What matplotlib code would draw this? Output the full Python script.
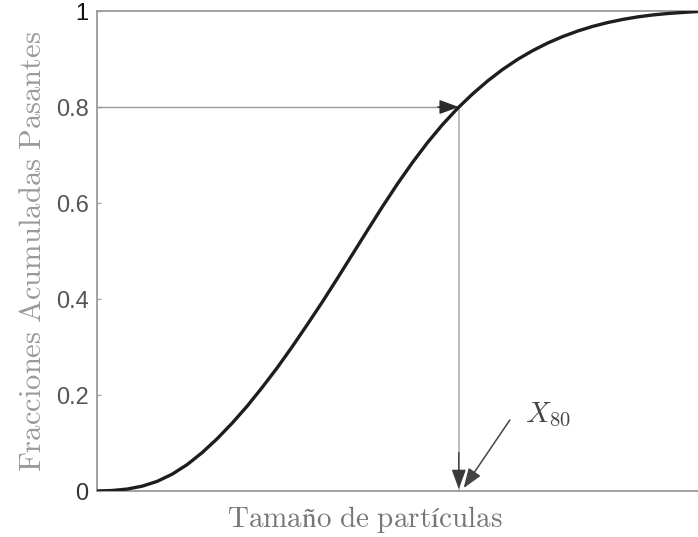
import matplotlib
matplotlib.use("Agg")
import matplotlib.pyplot as plt

plt.rcParams['mathtext.fontset'] = 'cm'

# Data (x in arbitrary size units 0-100)
size = [0.0, 2.5, 5.0, 7.5, 10.0, 12.5, 15.0, 17.5, 20.0, 22.5, 25.0, 27.5, 30.0,
        32.5, 35.0, 37.5, 40.0, 42.5, 45.0, 47.5, 50.0, 52.5, 55.0, 57.5, 60.0,
        62.5, 65.0, 67.5, 70.0, 72.5, 75.0, 77.5, 80.0, 82.5, 85.0, 87.5, 90.0,
        92.5, 95.0, 97.5, 100.0]
passing = [0.0, 0.001, 0.004, 0.010, 0.020, 0.035, 0.055, 0.080, 0.109, 0.1415,
           0.177, 0.216, 0.257, 0.301, 0.347, 0.394, 0.443, 0.493, 0.543, 0.5925,
           0.640, 0.6845, 0.726, 0.7635, 0.7973, 0.8273, 0.8543, 0.8783, 0.8993,
           0.9175, 0.9333, 0.9468, 0.9583, 0.968, 0.976, 0.9825, 0.9878, 0.9918,
           0.9948, 0.997, 0.999]
x80 = 60.2
level = 0.8
yticks = [0, 0.2, 0.4, 0.6, 0.8, 1]
yticklabels = ['0', '0.2', '0.4', '0.6', '0.8', '1']

fig = plt.figure(figsize=(6.98, 5.37), dpi=100)
ax = fig.add_axes([97 / 698, 46 / 537, 601 / 698, 480 / 537])

ax.plot(size, passing, color='#1e1e1e', lw=2.4, solid_capstyle='round',
        solid_joinstyle='round', zorder=3)

head = '-|>,head_length=0.6,head_width=0.22'
# guide lines
ax.plot([0, x80], [level, level], color='#9a9a9a', lw=1.0, zorder=2)
ax.plot([x80, x80], [level, 0], color='#b0b0b0', lw=1.2, zorder=2)
ax.annotate('', xy=(x80, level), xytext=(x80 - 3.5, level),
            arrowprops=dict(arrowstyle=head, color='#2a2a2a', lw=1.0,
                            mutation_scale=20, shrinkA=0, shrinkB=0), zorder=4)
ax.annotate('', xy=(x80, 0.004), xytext=(x80, 0.08),
            arrowprops=dict(arrowstyle=head, color='#3a3a3a', lw=1.0,
                            mutation_scale=20, shrinkA=0, shrinkB=0), zorder=4)

# X80 annotation
ax.text(71.2, 0.144, r'$X_{\mathsf{80}}$', fontsize=21, color='#444444',
        va='baseline', ha='left')
ax.annotate('', xy=(61.0, 0.006), xytext=(68.7, 0.148),
            arrowprops=dict(arrowstyle=head, color='#444444', lw=1.1,
                            mutation_scale=20, shrinkA=0, shrinkB=0))

ax.set_xlim(0, 100)
ax.set_ylim(0, 1)
ax.set_xticks([])
ax.set_yticks(yticks)
ax.set_yticklabels(yticklabels, fontfamily='Liberation Sans', fontsize=17, color='#555555')
ax.get_yticklabels()[-1].set_color('#111111')
ax.get_yticklabels()[0].set_color('#333333')
ax.tick_params(axis='y', direction='in', length=3, width=1, color='#aaaaaa', pad=6)

for s in ['left', 'bottom', 'top']:
    ax.spines[s].set_color('#9a9a9a')
    ax.spines[s].set_linewidth(1.3)
ax.spines['right'].set_visible(False)

ax.set_ylabel(r'$\mathrm{Fracciones\ Acumuladas\ Pasantes}$', fontsize=22, color='#9a9a9a')
ax.yaxis.set_label_coords(-0.083, 0.5)
ax.set_xlabel(r'$\mathrm{Tamaño\ de\ partículas}$', fontsize=21, color='#777777')
ax.xaxis.set_label_coords((365 - 97) / 601, -0.028)

fig.savefig('out.png', dpi=100)
